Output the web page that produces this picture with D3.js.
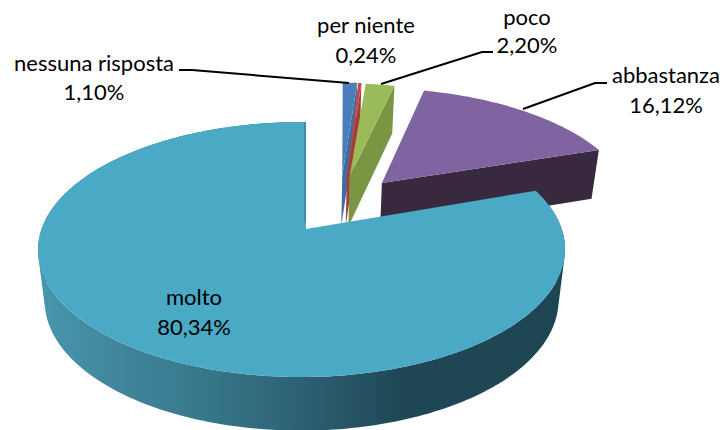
<!DOCTYPE html>
<html><head><meta charset="utf-8">
<script src="https://cdnjs.cloudflare.com/ajax/libs/d3/7.8.5/d3.min.js"></script>
<style>html,body{margin:0;padding:0;background:#fff}svg{display:block}text{font-family:Lato,"Open Sans",sans-serif;font-size:22px;fill:#000;text-anchor:middle}</style>
</head><body><svg id="c" width="726" height="430"></svg>
<script>
const categories=["nessuna risposta","per niente","poco","abbastanza","molto"];
const values=[1.10,0.24,2.20,16.12,80.34];
const valueLabels=["1,10%","0,24%","2,20%","16,12%","80,34%"];
const topColors=["#4a7ebb","#be4b48","#9bbb59","#8064a2","#4aa9c4"];
const wallColors=["#3f6ca3","#a33e3b","#7a9643","#38293f","#1e4552"];
const explodeU=[0.175,0.18,0.2,0.338,0];
const apexU=[0.15,0.169,0.18,0.312,0];
const explodeV=[-0.46,-0.46,-0.45,-0.396,0];
const labelX=[94,366,527,666,194], labelY1=[71,33,25,83,305], labelY2=[100,63,53,113,335];
const leaders=[[[179,70],[192,70],[349,83]],[],[[381,84],[482,52],[493,52]],[[523,109],[595,83],[607,83]],[]];

const svg=d3.select("#c");
const P={x0:306,y0:229,a:260,b:124.2,p:0.161,q:-0.0169};
function proj(u,v){const D=1-P.p*v-P.q*u;return [P.x0+P.a*u/D,P.y0+P.b*v/D];}
function drop([x,y]){return [P.x0+0.975*(x-P.x0),y+48+0.02*(y-100)];}
const line=d3.line();
const pie=d3.pie().sort(null).value(d=>d)(values);
function rimPoint(i,t,r=1){return proj(explodeU[i]+r*Math.sin(t),explodeV[i]-r*Math.cos(t));}
function rim(i){const s=pie[i],n=Math.max(4,Math.ceil((s.endAngle-s.startAngle)/0.02));
  return d3.range(n+1).map(k=>rimPoint(i,s.startAngle+(s.endAngle-s.startAngle)*k/n));}

const defs=svg.append("defs");
const g=defs.append("linearGradient").attr("id","w").attr("gradientUnits","userSpaceOnUse")
 .attr("x1",38).attr("x2",565).attr("y1",0).attr("y2",0);
[[0,"#4797ad"],[0.12,"#41899f"],[0.31,"#38788c"],[0.5,"#2d6072"],[0.69,"#1f4755"],[1,"#1e4552"]]
 .forEach(([o,c])=>g.append("stop").attr("offset",o).attr("stop-color",c));

categories.forEach((c,i)=>{
  const r=rim(i),apex=proj(apexU[i],explodeV[i]);
  const G=svg.append("g");
  if(i===4){
    const quads=d3.pairs(r).map(([a,b])=>{
      const q=[a,b,drop(b),drop(a)];
      return d3.polygonArea(q)<0?q.reverse():q;
    });
    G.append("path").attr("d",quads.map(q=>line(q)+"Z").join("")).attr("fill","url(#w)");
  } else {
    const e=r[r.length-1];
    G.append("path").attr("d",line([apex,e,drop(e),drop(apex)])+"Z").attr("fill",wallColors[i]);
  }
  G.append("path").attr("d",line([apex,...r])+"Z").attr("fill",topColors[i]);
  if(i===4){
    G.append("path").attr("d",line(d3.range(0.05,1.01,0.05).map(f=>{const p=rimPoint(i,0,f);return [p[0]-1,p[1]];})))
     .attr("fill","none").attr("stroke","#3d8aa3").attr("stroke-width",1.5);
  }
});
leaders.forEach(l=>{if(l.length)svg.append("path").attr("d",line(l)).attr("fill","none").attr("stroke","#000").attr("stroke-width",2);});
categories.forEach((c,i)=>{
  svg.append("text").attr("x",labelX[i]).attr("y",labelY1[i]).text(c);
  svg.append("text").attr("x",labelX[i]).attr("y",labelY2[i]).text(valueLabels[i]);
});
</script></body></html>
